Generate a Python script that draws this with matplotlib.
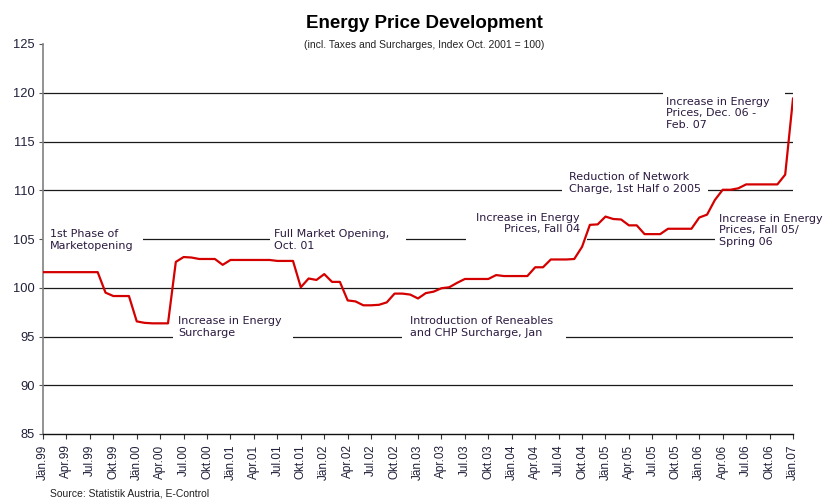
import matplotlib
matplotlib.use("Agg")
import matplotlib.pyplot as plt
from matplotlib.patches import Rectangle
import numpy as np

# ---- data (monthly index, Jan 1999 .. Jan 2007) ----
months = list(range(97))
index_values = [
    101.6, 101.6, 101.6, 101.6, 101.6, 101.6, 101.6, 101.6,   # Jan99-Aug99
    99.5, 99.15, 99.15, 99.15,                                 # Sep99-Dec99
    96.55, 96.4, 96.35, 96.35, 96.35, 102.65, 103.15, 103.1,   # Jan00-Aug00
    102.95, 102.95, 102.95, 102.35,                            # Sep00-Dec00
    102.85, 102.85, 102.85, 102.85, 102.85, 102.85, 102.75, 102.75,  # Jan01-Aug01
    102.75, 100.05, 100.95, 100.8,                             # Sep01-Dec01
    101.4, 100.6, 100.6, 98.7, 98.6, 98.2, 98.2, 98.25,        # Jan02-Aug02
    98.5, 99.4, 99.4, 99.3,                                    # Sep02-Dec02
    98.9, 99.45, 99.6, 99.95, 100.05, 100.5, 100.9, 100.9,     # Jan03-Aug03
    100.9, 100.9, 101.3, 101.2,                                # Sep03-Dec03
    101.2, 101.2, 101.2, 102.1, 102.1, 102.9, 102.9, 102.9,    # Jan04-Aug04
    102.95, 104.2, 106.45, 106.5,                              # Sep04-Dec04
    107.3, 107.05, 107.0, 106.4, 106.4, 105.5, 105.5, 105.5,   # Jan05-Aug05
    106.05, 106.05, 106.05, 106.05,                            # Sep05-Dec05
    107.2, 107.5, 109.0, 110.05, 110.05, 110.2, 110.6, 110.6,  # Jan06-Aug06
    110.6, 110.6, 110.6, 111.6,                                # Sep06-Dec06
    119.4,                                                     # Jan07
]
month_names = ["Jän", "Apr", "Jul", "Okt"]
years = ["99", "00", "01", "02", "03", "04", "05", "06", "07"]
tick_labels = [f"{month_names[i % 4]}.{years[i // 4]}" for i in range(33)]
tick_positions = list(range(0, 97, 3))
y_ticks = [85, 90, 95, 100, 105, 110, 115, 120, 125]
grid_values = [90, 95, 100, 105, 110, 115, 120]

# annotations: text, x (month), y (value), ha, gap on gridline (gridvalue, m0, m1)
annotations = [
    ("1st Phase of\nMarketopening", 0.9, 104.87, "left", (105, 0.0, 12.8)),
    ("Full Market Opening,\nOct. 01", 29.57, 104.87, "left", (105, 29.06, 46.46)),
    ("Increase in Energy\nSurcharge", 17.28, 95.95, "left", (95, 16.64, 32.0)),
    ("Introduction of Reneables\nand CHP Surcharge, Jan", 46.98, 95.95, "left", (95, 45.95, 66.94)),
    ("Increase in Energy\nPrices, Fall 04", 68.74, 106.6, "right", (105, 54.14, 69.63)),
    ("Reduction of Network\nCharge, 1st Half o 2005", 67.33, 110.72, "left", (110, 66.43, 85.12)),
    ("Increase in Energy\nPrices, Fall 05/\nSpring 06", 86.5, 105.9, "left", (105, 86.0, 97.0)),
    ("Increase in Energy\nPrices, Dec. 06 -\nFeb. 07", 79.74, 117.9, "left", (120, 79.36, 94.98)),
]

W, H = 829, 501
fig = plt.figure(figsize=(W / 100, H / 100), dpi=100)
ax = fig.add_axes([43 / W, 1 - 434 / H, (793 - 43) / W, (434 - 44) / H])

ax.set_xlim(0, 96)
ax.set_ylim(85, 125)

for g in grid_values:
    ax.axhline(g, color="#1a1a1a", lw=0.9, zorder=1)

for txt, x, y, ha, (g, m0, m1) in annotations:
    ax.add_patch(Rectangle((m0, g - 0.6), m1 - m0, 1.2, facecolor="white",
                           edgecolor="none", zorder=2))
    ax.text(x, y, txt, ha=ha, va="center", fontsize=8, family="DejaVu Sans",
            color="#2b1a40", linespacing=1.2, zorder=5)

ax.plot(months, index_values, color="#d40000", lw=1.6, zorder=4)

ax.set_yticks(y_ticks)
ax.set_yticklabels([str(v) for v in y_ticks], fontsize=9.3, family="Liberation Sans",
                   color="#20203a")
ax.set_xticks(tick_positions)
ax.set_xticklabels(tick_labels, rotation=90, fontsize=8.5, family="Liberation Sans",
                   color="#20203a")
ax.tick_params(axis="y", length=3, width=0.8, pad=3, color="#555555")
ax.tick_params(axis="x", length=3.5, width=0.8, pad=4, color="#333333")

for s in ["top", "right"]:
    ax.spines[s].set_visible(False)
ax.spines["left"].set_color("#808080")
ax.spines["left"].set_linewidth(1.2)
ax.spines["bottom"].set_color("#111111")
ax.spines["bottom"].set_linewidth(1.0)

fig.text(424 / W, 1 - 23 / H, "Energy Price Development", ha="center", va="center",
         fontsize=13.5, fontweight="bold", family="Liberation Sans", color="black")
fig.text(424 / W, 1 - 45 / H, "(incl. Taxes and Surcharges, Index Oct. 2001 = 100)",
         ha="center", va="center", fontsize=7.5, family="Liberation Sans", color="#222222")
fig.text(50 / W, 1 - 494 / H, "Source: Statistik Austria, E-Control", ha="left",
         va="center", fontsize=7.5, family="Liberation Sans", color="#222222")

fig.savefig("out.png", dpi=100)
